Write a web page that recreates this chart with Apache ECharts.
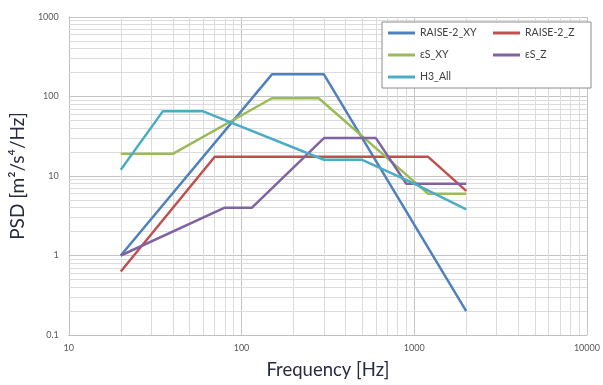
<!DOCTYPE html>
<html>
<head>
<meta charset="utf-8">
<script src="https://cdn.jsdelivr.net/npm/echarts@6/dist/echarts.min.js"></script>
<style>
  html, body { margin: 0; padding: 0; background: #fff; }
  #chart { width: 603px; height: 385px; }
</style>
</head>
<body>
<div id="chart"></div>
<script>
// PSD test profiles: [frequency Hz, PSD m²/s⁴/Hz] breakpoints
const seriesNames = ['RAISE-2_XY', 'RAISE-2_Z', 'εS_XY', 'εS_Z', 'H3_All'];
const raise2XY = [[20, 1], [150, 190], [300, 190], [2000, 0.2]];
const raise2Z  = [[20, 0.63], [70, 17.5], [1200, 17.5], [2000, 6.5]];
const esXY     = [[20, 19], [40, 19], [150, 95], [280, 95], [1200, 6], [2000, 6]];
const esZ      = [[20, 1], [80, 4], [115, 4], [300, 30], [600, 30], [900, 8], [2000, 8]];
const h3All    = [[20, 12], [35, 65], [60, 65], [300, 16], [500, 16], [1000, 8], [2000, 3.8]];
const colors   = ['#4F81BD', '#C0504D', '#9BBB59', '#8064A2', '#4BACC6'];

const xTickLabels = [10, 100, 1000, 10000];
const yTickLabels = [0.1, 1, 10, 100, 1000];

// Minor log grid (2..9 within each decade)
const minorX = [];
for (let d = 10; d < 10000; d *= 10) for (let k = 2; k <= 9; k++) minorX.push(k * d);
const minorY = [];
for (let d = 0.1; d < 999; d *= 10) for (let k = 2; k <= 9; k++) minorY.push(+(k * d).toPrecision(3));

const font = 'Lato, "Open Sans", sans-serif';
const dataSets = [raise2XY, raise2Z, esXY, esZ, h3All];
const plain = v => String(+Number(v).toPrecision(6));

const chart = echarts.init(document.getElementById('chart'), null, { renderer: 'canvas' });

const series = [{
  type: 'line',
  data: [],
  silent: true,
  z: 1,
  markLine: {
    silent: true,
    z: 1,
    symbol: 'none',
    label: { show: false },
    animation: false,
    emphasis: { disabled: true },
    lineStyle: { color: '#dcdcdc', width: 1, type: 'solid' },
    data: minorX.map(v => ({ xAxis: v })).concat(minorY.map(v => ({ yAxis: v })))
  }
}].concat(seriesNames.map((name, i) => ({
  name: name,
  type: 'line',
  data: dataSets[i],
  symbol: 'none',
  z: 3,
  lineStyle: { color: colors[i], width: 2.5 },
  itemStyle: { color: colors[i] }
})));

chart.setOption({
  animation: false,
  textStyle: { fontFamily: font },
  grid: { left: 65, right: 13, top: 17, bottom: 45 },
  legend: {
    data: seriesNames,
    left: 382,
    top: 22,
    width: 202,
    orient: 'horizontal',
    padding: [5, 3, 5, 6],
    itemGap: 10,
    itemWidth: 27,
    itemHeight: 3,
    icon: 'rect',
    backgroundColor: '#fff',
    borderColor: '#8c8c8c',
    borderWidth: 1,
    textStyle: { fontSize: 10.5, color: '#404040', width: 63, lineHeight: 12, fontFamily: font }
  },
  xAxis: {
    type: 'log',
    logBase: 10,
    min: xTickLabels[0],
    max: xTickLabels[xTickLabels.length - 1],
    name: 'Frequency [Hz]',
    nameLocation: 'middle',
    nameGap: 26,
    nameTextStyle: { fontSize: 18.5, color: '#262a44', fontFamily: font },
    axisLine: { lineStyle: { color: '#bfbfbf' } },
    axisTick: { show: false },
    axisLabel: { fontSize: 9, color: '#595959', margin: 9, formatter: plain },
    splitLine: { show: true, lineStyle: { color: '#c4c4c4', width: 1 } }
  },
  yAxis: {
    type: 'log',
    logBase: 10,
    min: yTickLabels[0],
    max: yTickLabels[yTickLabels.length - 1],
    name: 'PSD [m²/s⁴/Hz]',
    nameLocation: 'middle',
    nameGap: 33,
    nameRotate: 90,
    nameTextStyle: { fontSize: 19, color: '#262a44', fontFamily: font },
    axisLine: { show: true, lineStyle: { color: '#bfbfbf' } },
    axisTick: { show: false },
    axisLabel: { fontSize: 9, color: '#595959', margin: 10, formatter: plain },
    splitLine: { show: true, lineStyle: { color: '#c4c4c4', width: 1 } }
  },
  series: series
});
</script>
</body>
</html>
